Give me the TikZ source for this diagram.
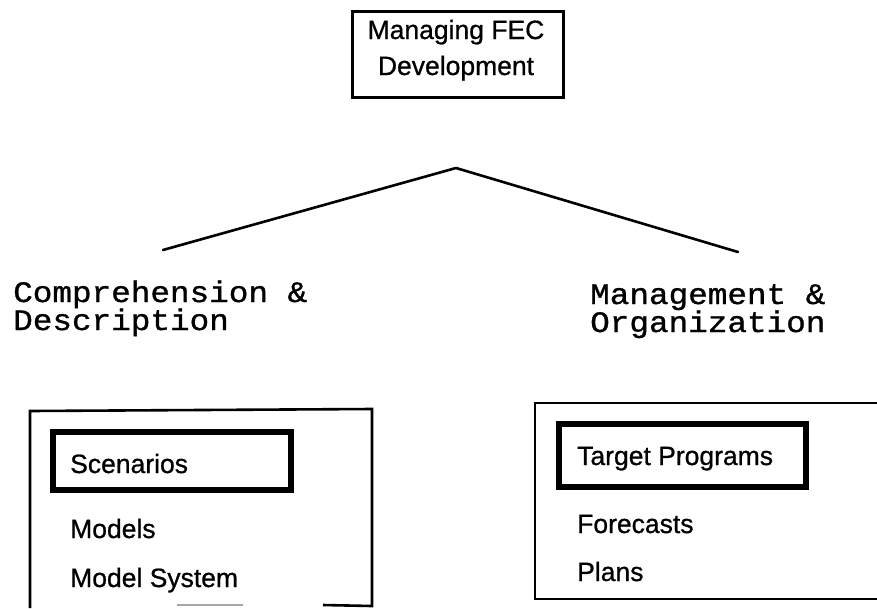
\documentclass[tikz,border=0pt]{standalone}
\usepackage{fontspec}
\setmainfont[FakeBold=0.8]{Liberation Sans}
\newfontfamily\typew[FakeStretch=1.1,FakeBold=1]{Liberation Mono}
\begin{document}
\begin{tikzpicture}[x=1pt,y=-1pt,
  frame/.style={line width=2.6pt},
  thickframe/.style={line width=5.5pt},
  txt/.style={anchor=base west, inner sep=0pt, font=\fontsize{26.5}{30}\selectfont},
  mono/.style={anchor=base west, inner sep=0pt, font=\typew\fontsize{29.7}{28}\selectfont},
  link/.style={line width=2.6pt, line cap=round, line join=round}]
\useasboundingbox (0,0) rectangle (877,608);
% top box
\draw[frame, line width=3pt] (352,11) rectangle (563,97);
\node[txt, anchor=base] (t1) at (456,39) {Managing FEC};
\node[txt, anchor=base] (t2) at (456,75) {Development};
% labels
\node[mono] (cd1) at (13,302) {Comprehension \&};
\node[mono] (cd2) at (13,330) {Description};
\node[mono] (mo1) at (590,304) {Management \&};
\node[mono] (mo2) at (590,332) {Organization};
% connectors
\coordinate (apex) at (456,168);
\coordinate (lend) at (163,250);
\coordinate (rend) at (738,252);
\draw[link] (lend) -- (apex) -- (rend);
% left box
\draw[frame] (30,608) -- (30,411) -- (372,409) -- (372,606) -- (323,605);
\draw[frame, gray!70] (177,605) -- (243,605);
\draw[thickframe] (53,432) rectangle (291,490);
\node[txt] (s1) at (70,473) {Scenarios};
\node[txt] (s2) at (70,538) {Models};
\node[txt] (s3) at (70,587) {Model System};
% right box
\draw[frame] (877,403) -- (535,403) -- (535,599) -- (877,599);
\draw[thickframe] (559,424) rectangle (806,487);
\node[txt] (r1) at (577,465) {Target Programs};
\node[txt] (r2) at (577,533) {Forecasts};
\node[txt] (r3) at (577,581) {Plans};
\end{tikzpicture}
\end{document}
